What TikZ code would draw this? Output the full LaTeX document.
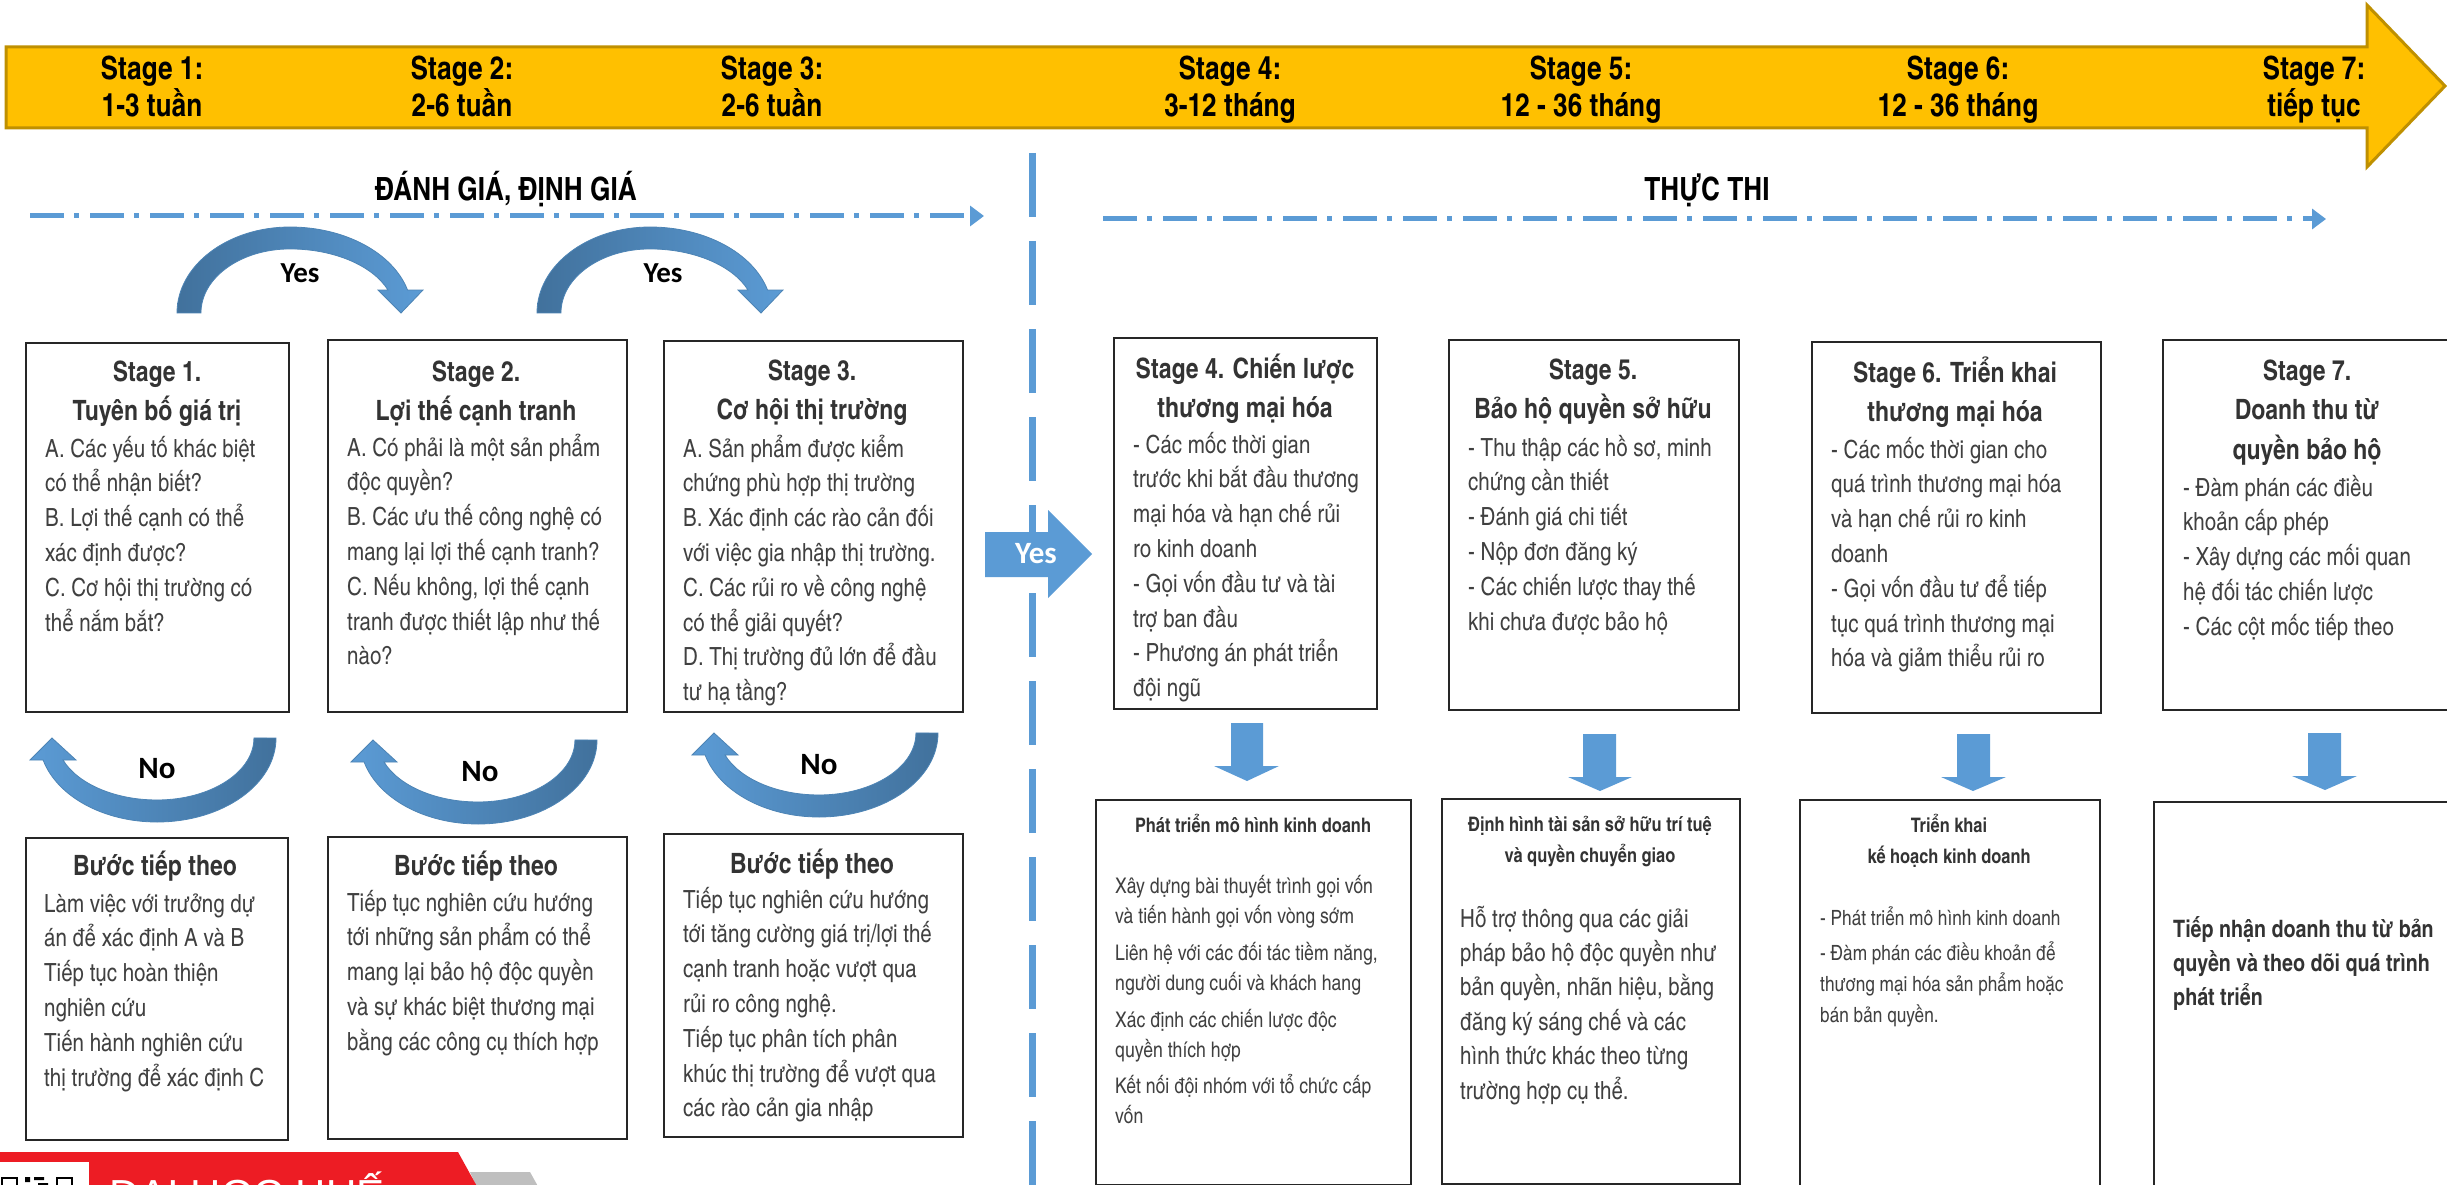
\documentclass[tikz,border=0pt]{standalone}
\usepackage{fontspec}
\setmainfont{texgyreheroscn}[Extension=.otf, UprightFont=*-regular, BoldFont=*-bold, ItalicFont=*-italic, BoldItalicFont=*-bolditalic]
\newfontfamily\yesfont{Carlito}
\newfontfamily\logofont{Liberation Sans}
\usetikzlibrary{arrows.meta}
\definecolor{gold}{HTML}{FFC000}
\definecolor{golddark}{HTML}{BF9000}
\definecolor{lblue}{HTML}{5B9BD5}
\definecolor{dblue}{HTML}{41719C}
\definecolor{boxline}{HTML}{262626}
\definecolor{txt}{HTML}{404040}
\definecolor{ttl}{HTML}{333333}
\definecolor{logored}{HTML}{ED1C24}
\definecolor{logogray}{HTML}{BFBFBF}
\tikzset{
  stagebox/.style={draw=boxline, line width=2.4pt, fill=white, inner sep=0pt, anchor=north west},
  bannertext/.style={font=\bfseries\fontsize{32}{37}\selectfont, align=center, anchor=base, inner sep=0pt},
  header/.style={font=\bfseries\fontsize{32}{37}\selectfont, anchor=base, inner sep=0pt},
  title/.style={font=\bfseries\fontsize{28}{39.5}\selectfont, text=ttl, align=center, anchor=base, inner sep=0pt},
  body/.style={font=\fontsize{25}{34.8}\selectfont, text=txt, align=left, anchor=base west, inner sep=0pt},
  smalltitle/.style={font=\bfseries\fontsize{20}{31}\selectfont, text=ttl, align=center, anchor=base, inner sep=0pt},
  smallbody/.style={font=\fontsize{21.5}{30}\selectfont, text=txt, align=left, anchor=base west, inner sep=0pt},
  arclabel/.style={font=\yesfont\bfseries\fontsize{29}{34}\selectfont, anchor=center, inner sep=0pt},
  nolabel/.style={font=\yesfont\bfseries\fontsize{31}{34}\selectfont, anchor=center, inner sep=0pt},
  yesarc/.style={left color=dblue, right color=lblue, draw=lblue!85!black, line width=0.8pt},
  noarc/.style={left color=lblue, right color=dblue, draw=lblue!85!black, line width=0.8pt},
  dashdot/.style={draw=lblue, line width=5pt, dash pattern=on 34pt off 10pt on 5pt off 11pt},
  divider/.style={draw=lblue, line width=7pt, dash pattern=on 64pt off 24pt},
}
\newcommand\yesarcshape{%
  (177,313) arc[start angle=180,end angle=270,x radius=113,y radius=86]
  arc[start angle=270,end angle=344.5,x radius=122,y radius=86]
  -- (423,290) -- (401,313) -- (378,290) -- (388,290)
  arc[start angle=339,end angle=270,x radius=105,y radius=64]
  arc[start angle=270,end angle=180,x radius=89,y radius=64] -- cycle}
\newcommand\noarcshape{%
  (276,738) arc[start angle=0,end angle=90,x radius=119,y radius=84]
  arc[start angle=90,end angle=164.8,x radius=118,y radius=84]
  -- (30,760) -- (52,738) -- (76,760) -- (63,760)
  arc[start angle=159.2,end angle=90,x radius=100.5,y radius=62]
  arc[start angle=90,end angle=0,x radius=97,y radius=62] -- cycle}
\begin{document}
\begin{tikzpicture}[x=1pt,y=-1pt]
\useasboundingbox (0,0) rectangle (2447,1185);
\fill[white] (0,0) rectangle (2447,1185);

% ---------- banner ----------
\draw[fill=gold, draw=golddark, line width=3pt, line join=miter]
  (6,47) -- (2367,47) -- (2367,5) -- (2445,86) -- (2367,167) -- (2367,128) -- (6,128) -- cycle;
\node[bannertext] (bt1) at (152,117) {Stage 1:\\1-3 tuần};
\node[bannertext] (bt2) at (462,117) {Stage 2:\\2-6 tuần};
\node[bannertext] (bt3) at (772,117) {Stage 3:\\2-6 tuần};
\node[bannertext] (bt4) at (1230,117) {Stage 4:\\3-12 tháng};
\node[bannertext] (bt5) at (1581,117) {Stage 5:\\12 - 36 tháng};
\node[bannertext] (bt6) at (1958,117) {Stage 6:\\12 - 36 tháng};
\node[bannertext] (bt7) at (2314,117) {Stage 7:\\tiếp tục};

% ---------- section headers ----------
\node[header] (h1) at (506,201) {ĐÁNH GIÁ, ĐỊNH GIÁ};
\node[header] (h2) at (1707,201) {THỰC THI};
\coordinate (dl1) at (30,216);
\coordinate (dl2) at (984,216);
\coordinate (dr1) at (1103,219);
\coordinate (dr2) at (2326,219);
\draw[dashdot, -{Triangle[length=14pt,width=20pt]}] (dl1) -- (dl2);
\draw[dashdot, -{Triangle[length=14pt,width=20pt]}] (dr1) -- (dr2);

% ---------- divider ----------
\coordinate (divtop) at (1032,153);
\coordinate (divbot) at (1032,1190);
\draw[divider] (divtop) -- (divbot);

% ---------- yes arcs ----------
\path[yesarc] \yesarcshape;
\begin{scope}[shift={(360,0)}]
\path[yesarc] \yesarcshape;
\end{scope}
\node[arclabel] (yes1) at (300,273) {Yes};
\node[arclabel] (yes2) at (663,273) {Yes};

% ---------- top boxes ----------
\node[stagebox, minimum width=263, minimum height=369] (s1) at (25,342) {};
\node[stagebox, minimum width=299, minimum height=372] (s2) at (327,339) {};
\node[stagebox, minimum width=299, minimum height=371] (s3) at (663,340) {};
\node[stagebox, minimum width=263, minimum height=371] (s4) at (1113,337) {};
\node[stagebox, minimum width=290, minimum height=370] (s5) at (1448,339) {};
\node[stagebox, minimum width=289, minimum height=371] (s6) at (1811,341) {};
\node[stagebox, minimum width=290, minimum height=370] (s7) at (2162,339) {};

\node[title] (s1t) at (157,420.5) {Stage 1.\\Tuyên bố giá trị};
\node[body] (s1b) at (45,631) {A. Các yếu tố khác biệt\\có thể nhận biết?\\B. Lợi thế cạnh có thể\\xác định được?\\C. Cơ hội thị trường có\\thể nắm bắt?};
\node[title] (s2t) at (476,420.5) {Stage 2.\\Lợi thế cạnh tranh};
\node[body] (s2b) at (347,664.8) {A. Có phải là một sản phẩm\\độc quyền?\\B. Các ưu thế công nghệ có\\mang lại lợi thế cạnh tranh?\\C. Nếu không, lợi thế cạnh\\tranh được thiết lập như thế\\nào?};
\node[title] (s3t) at (812,419.5) {Stage 3.\\Cơ hội thị trường};
\node[body] (s3b) at (683,700.6) {A. Sản phẩm được kiểm\\chứng phù hợp thị trường\\B. Xác định các rào cản đối\\với việc gia nhập thị trường.\\C. Các rủi ro về công nghệ\\có thể giải quyết?\\D. Thị trường đủ lớn để đầu\\tư hạ tầng?};
\node[title] (s4t) at (1245,417.5) {Stage 4. Chiến lược\\thương mại hóa};
\node[body] (s4b) at (1133,696.6) {- Các mốc thời gian\\trước khi bắt đầu thương\\mại hóa và hạn chế rủi\\ro kinh doanh\\- Gọi vốn đầu tư và tài\\trợ ban đầu\\- Phương án phát triển\\đội ngũ};
\node[title] (s5t) at (1593,418.5) {Stage 5.\\Bảo hộ quyền sở hữu};
\node[body] (s5b) at (1468,630) {- Thu thập các hồ sơ, minh\\chứng cần thiết\\- Đánh giá chi tiết\\- Nộp đơn đăng ký\\- Các chiến lược thay thế\\khi chưa được bảo hộ};
\node[title] (s6t) at (1955,421.5) {Stage 6. Triển khai\\thương mại hóa};
\node[body] (s6b) at (1831,666.8) {- Các mốc thời gian cho\\quá trình thương mại hóa\\và hạn chế rủi ro kinh\\doanh\\- Gọi vốn đầu tư để tiếp\\tục quá trình thương mại\\hóa và giảm thiểu rủi ro};
\node[title] (s7t) at (2307,459) {Stage 7.\\Doanh thu từ\\quyền bảo hộ};
\node[body] (s7b) at (2183,635.2) {- Đàm phán các điều\\khoản cấp phép\\- Xây dựng các mối quan\\hệ đối tác chiến lược\\- Các cột mốc tiếp theo};

% ---------- big yes arrow ----------
\fill[lblue] (985,532) -- (1048,532) -- (1048,510) -- (1092,554) -- (1048,598) -- (1048,577) -- (985,577) -- cycle;
\node[font=\yesfont\bfseries\fontsize{31}{34}\selectfont, text=white, inner sep=0pt] (bigyes) at (1036,554) {Yes};

% ---------- no arcs ----------
\path[noarc] \noarcshape;
\begin{scope}[shift={(321,2)}]
\path[noarc] \noarcshape;
\end{scope}
\begin{scope}[shift={(662,-5)}]
\path[noarc] \noarcshape;
\end{scope}
\node[nolabel] (no1) at (157,769) {No};
\node[nolabel] (no2) at (480,772) {No};
\node[nolabel] (no3) at (819,765) {No};

% ---------- next step boxes ----------
\node[stagebox, minimum width=262, minimum height=302] (n1) at (25,837) {};
\node[stagebox, minimum width=299, minimum height=302] (n2) at (327,836) {};
\node[stagebox, minimum width=299, minimum height=303] (n3) at (663,833) {};
\node[title] (n1t) at (155,875) {Bước tiếp theo};
\node[body] (n1b) at (44,1086) {Làm việc với trưởng dự\\án để xác định A và B\\Tiếp tục hoàn thiện\\nghiên cứu\\Tiến hành nghiên cứu\\thị trường để xác định C};
\node[title] (n2t) at (476,875) {Bước tiếp theo};
\node[body] (n2b) at (347,1050.2) {Tiếp tục nghiên cứu hướng\\tới những sản phẩm có thể\\mang lại bảo hộ độc quyền\\và sự khác biệt thương mại\\bằng các công cụ thích hợp};
\node[title] (n3t) at (812,873) {Bước tiếp theo};
\node[body] (n3b) at (683,1116.8) {Tiếp tục nghiên cứu hướng\\tới tăng cường giá trị/lợi thế\\cạnh tranh hoặc vượt qua\\rủi ro công nghệ.\\Tiếp tục phân tích phân\\khúc thị trường để vượt qua\\các rào cản gia nhập};

% ---------- down arrows ----------
\fill[lblue] (1231,723) -- (1263,723) -- (1263,766) -- (1279,766) -- (1247,781) -- (1214,766) -- (1231,766) -- cycle;
\fill[lblue] (1583,734) -- (1616,734) -- (1616,777) -- (1632,777) -- (1600,791) -- (1568,777) -- (1583,777) -- cycle;
\fill[lblue] (1957,734) -- (1990,734) -- (1990,777) -- (2006,777) -- (1973,791) -- (1941,777) -- (1957,777) -- cycle;
\fill[lblue] (2308,733) -- (2341,733) -- (2341,776) -- (2357,776) -- (2325,790) -- (2292,776) -- (2308,776) -- cycle;

% ---------- result boxes ----------
\node[stagebox, minimum width=315, minimum height=385] (b4) at (1095,799) {};
\node[stagebox, minimum width=298, minimum height=385] (b5) at (1441,798) {};
\node[stagebox, minimum width=300, minimum height=400] (b6) at (1799,799) {};
\node[stagebox, minimum width=300, minimum height=400] (b7) at (2153,801) {};
\node[smalltitle] (b4t) at (1253,832) {Phát triển mô hình kinh doanh};
\node[smallbody] (b4b) at (1115,1123) {Xây dựng bài thuyết trình gọi vốn\\và tiến hành gọi vốn vòng sớm\\[7pt]Liên hệ với các đối tác tiềm năng,\\người dung cuối và khách hang\\[7pt]Xác định các chiến lược độc\\quyền thích hợp\\[6pt]Kết nối đội nhóm với tổ chức cấp\\vốn};
\node[smalltitle] (b5t) at (1590,862) {Định hình tài sản sở hữu trí tuệ\\và quyền chuyển giao};
\node[body, font=\fontsize{25}{34.4}\selectfont] (b5b) at (1460,1099) {Hỗ trợ thông qua các giải\\pháp bảo hộ độc quyền như\\bản quyền, nhãn hiệu, bằng\\đăng ký sáng chế và các\\hình thức khác theo từng\\trường hợp cụ thể.};
\node[smalltitle] (b6t) at (1949,863) {Triển khai\\kế hoạch kinh doanh};
\node[smallbody, font=\fontsize{21}{31}\selectfont] (b6b) at (1820,1022) {- Phát triển mô hình kinh doanh\\[4pt]- Đàm phán các điều khoản để\\thương mại hóa sản phẩm hoặc\\bán bản quyền.};
\node[body, font=\bfseries\fontsize{24}{34}\selectfont, text=ttl] (b7b) at (2173,1005) {Tiếp nhận doanh thu từ bản\\quyền và theo dõi quá trình\\phát triển};

% ---------- logo strip ----------
\begin{scope}
\clip (0,1100) rectangle (700,1185);
\fill[logogray] (470,1172) -- (530,1172) -- (540,1190) -- (478,1190) -- cycle;
\fill[logored] (0,1152) -- (458,1152) -- (479,1190) -- (0,1190) -- cycle;
\fill[white] (0,1162) rectangle (89,1190);
\draw[black, line width=2.5pt] (2,1178) rectangle (17,1192);
\draw[black, line width=2.5pt] (57,1178) rectangle (72,1192);
\fill[black] (25,1177) rectangle (30,1182) (34,1177) rectangle (44,1180) (38,1183) rectangle (48,1186) (24,1185) rectangle (33,1188);
\node[font=\logofont\fontsize{42}{42}\selectfont, text=white, anchor=base west, inner sep=0pt] (logo) at (109,1209) {ĐẠI HỌC HUẾ};
\end{scope}
\end{tikzpicture}
\end{document}
